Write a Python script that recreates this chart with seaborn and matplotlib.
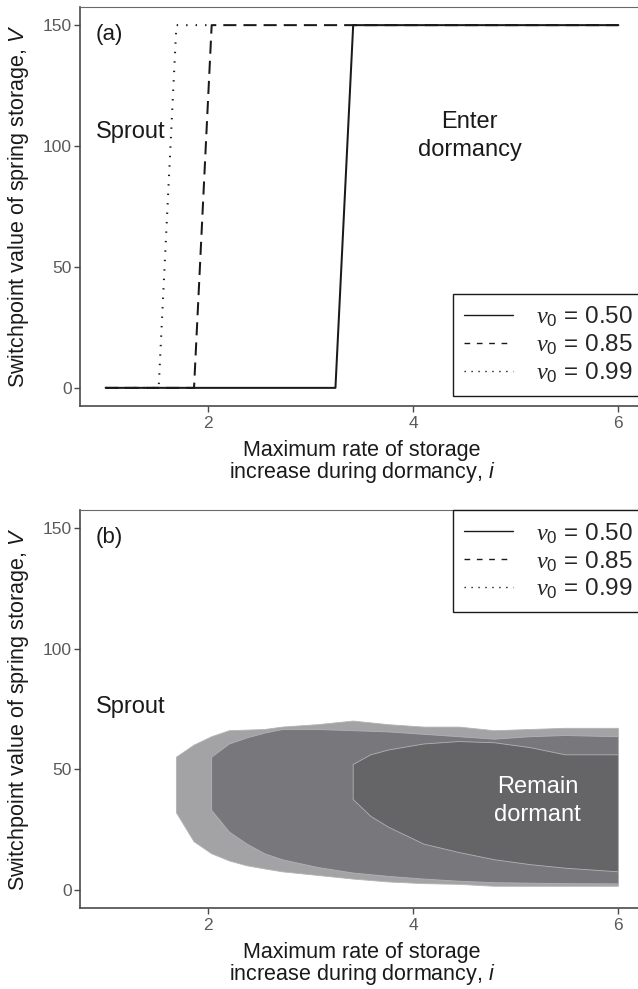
import matplotlib
matplotlib.use("Agg")
import matplotlib.pyplot as plt
from matplotlib.lines import Line2D
import pandas as pd
import seaborn as sns

# ---------------- panel (a): switchpoint value V against i ----------------
v0_labels = ["0.50", "0.85", "0.99"]

i_050 = [1.000, 3.241, 3.414, 6.000]
V_050 = [0, 0, 150, 150]
i_085 = [1.000, 1.862, 2.034, 6.000]
V_085 = [0, 0, 150, 150]
i_099 = [1.000, 1.517, 1.690, 2.034]
V_099 = [0, 0, 150, 150]

# ---------------- panel (b): "remain dormant" regions (outlines) ----------
reg099_i = [1.690, 1.690, 1.862, 2.034, 2.207, 2.552, 2.724, 3.069, 3.414,
            3.759, 4.103, 4.448, 4.793, 5.138, 5.483, 6.000,
            6.000, 4.793, 4.448, 4.103, 3.759, 3.414, 3.069, 2.724, 2.552,
            2.379, 2.207, 2.034, 1.862]
reg099_V = [32.0, 55.0, 60.0, 63.5, 66.0, 66.5, 67.5, 68.5, 70.0,
            68.5, 67.5, 67.5, 66.0, 66.5, 67.0, 67.0,
            1.5, 1.5, 2.3, 2.6, 3.3, 4.5, 6.0, 7.5, 8.7,
            10.0, 12.0, 15.0, 20.0]

reg085_i = [2.034, 2.034, 2.207, 2.379, 2.552, 2.724, 3.069, 3.414, 3.759,
            4.103, 4.448, 4.793, 5.138, 5.483, 6.000,
            6.000, 5.483, 4.793, 4.448, 4.103, 3.759, 3.414, 3.069, 2.724,
            2.552, 2.379, 2.207]
reg085_V = [33.0, 55.0, 60.5, 63.0, 65.0, 66.5, 66.5, 66.0, 65.5,
            64.5, 63.5, 62.5, 63.5, 64.0, 63.5,
            2.5, 2.6, 3.0, 3.6, 4.5, 5.6, 7.0, 9.3, 12.5,
            15.0, 19.0, 24.0]

reg050_i = [3.414, 3.414, 3.586, 3.759, 4.103, 4.448, 4.793, 5.138, 5.483,
            6.000, 6.000, 5.483, 5.138, 4.793, 4.448, 4.103, 3.759, 3.586]
reg050_V = [37.5, 52.0, 56.0, 58.0, 60.5, 61.5, 61.0, 59.0, 56.0,
            56.0, 7.5, 9.0, 10.5, 12.5, 15.5, 19.0, 26.0, 30.5]

x_ticks = [2, 4, 6]
y_ticks = [0, 50, 100, 150]

# ---------------- style ----------------
sns.set_style("ticks")
plt.rcParams.update({
    "font.family": ["Liberation Sans", "DejaVu Sans"],
    "mathtext.fontset": "custom",
    "mathtext.rm": "Liberation Sans",
    "mathtext.it": "Liberation Sans:italic",
    "mathtext.cal": "Liberation Serif:italic",
})

INK = "#1a1a1a"
TICK_GREY = "#5a5a5a"
SPINE = "#4a4a4a"

W, H = 638, 989
fig = plt.figure(figsize=(W / 100, H / 100), dpi=100)


def px_axes(left, top, right, bottom):
    return fig.add_axes([left / W, 1 - bottom / H, (right - left) / W,
                         (bottom - top) / H])


ax_a = px_axes(80, 7, 644, 406)
ax_b = px_axes(80, 510, 644, 908)

# panel (a) lines
curves = pd.DataFrame({
    "i": i_050 + i_085 + i_099,
    "V": V_050 + V_085 + V_099,
    "v0": (["0.50"] * len(i_050) + ["0.85"] * len(i_085)
           + ["0.99"] * len(i_099)),
})
sns.lineplot(data=curves, x="i", y="V", style="v0",
             style_order=["0.99", "0.85", "0.50"],
             dashes={"0.50": "", "0.85": (6.5, 3.5), "0.99": (0.7, 4.0)},
             color=INK, lw=1.45, estimator=None, sort=False,
             legend=False, ax=ax_a)

# panel (b) filled regions, widest first
fills = [(reg099_i, reg099_V, "#a3a3a6"),
         (reg085_i, reg085_V, "#78787c"),
         (reg050_i, reg050_V, "#656567")]
for xs, ys, col in fills:
    ax_b.fill(xs, ys, facecolor=col, edgecolor="#b3b3b5", lw=0.6, zorder=2)

# legend entries shared by both panels
handles = [
    Line2D([], [], color=INK, lw=1.0, linestyle="-"),
    Line2D([], [], color=INK, lw=1.0, linestyle=(0, (4.1, 4.8))),
    Line2D([], [], color=INK, lw=1.0, linestyle=(0, (1.0, 4.0))),
]
labels = [r"$\mathcal{\nu}_0$ = " + s for s in v0_labels]

for ax, anchor, loc in [(ax_a, (1.0, 10 / 399), "lower right"),
                        (ax_b, (1.0, 1.0), "upper right")]:
    ax.set_xlim(0.75, 6.25)
    ax.set_ylim(-7.5, 157.5)
    ax.set_xticks(x_ticks)
    ax.set_yticks(y_ticks)
    ax.tick_params(axis="both", colors=SPINE, labelcolor=TICK_GREY,
                   labelsize=12.5, length=4, width=1.0)
    ax.tick_params(axis="x", pad=3.5)
    ax.tick_params(axis="y", pad=2)
    for side in ["left", "bottom"]:
        ax.spines[side].set_color(SPINE)
        ax.spines[side].set_linewidth(1.2)
    ax.spines["top"].set_color("#6a6a6a")
    ax.spines["top"].set_linewidth(0.8)
    ax.spines["right"].set_visible(False)
    ax.set_xlabel("Maximum rate of storage\nincrease during dormancy, $i$",
                  fontsize=15.5, color=INK, linespacing=0.95, labelpad=6)
    ax.set_ylabel("Switchpoint value of spring storage, $V$",
                  fontsize=15.5, color=INK, labelpad=8)
    leg = ax.legend(handles, labels, loc=loc, bbox_to_anchor=anchor,
                    borderaxespad=0, frameon=True, fancybox=False,
                    framealpha=1, fontsize=17.5, handlelength=2.0,
                    handletextpad=0.95, labelspacing=0.12, borderpad=0.45)
    leg.get_frame().set_edgecolor(INK)
    leg.get_frame().set_linewidth(1.0)

# annotations
ax_a.text(1.04, 146, "(a)", ha="center", va="center", fontsize=16, color=INK)
ax_a.text(1.24, 106, "Sprout", ha="center", va="center", fontsize=17,
          color=INK)
ax_a.text(4.55, 104, "Enter\ndormancy", ha="center", va="center",
          fontsize=17, color=INK, linespacing=1.35)

ax_b.text(1.04, 146, "(b)", ha="center", va="center", fontsize=16, color=INK)
ax_b.text(1.24, 76, "Sprout", ha="center", va="center", fontsize=17,
          color=INK)
ax_b.text(5.21, 37, "Remain\ndormant", ha="center", va="center",
          fontsize=17, color="white", linespacing=1.35, zorder=5)

fig.savefig("out.png", dpi=100)
